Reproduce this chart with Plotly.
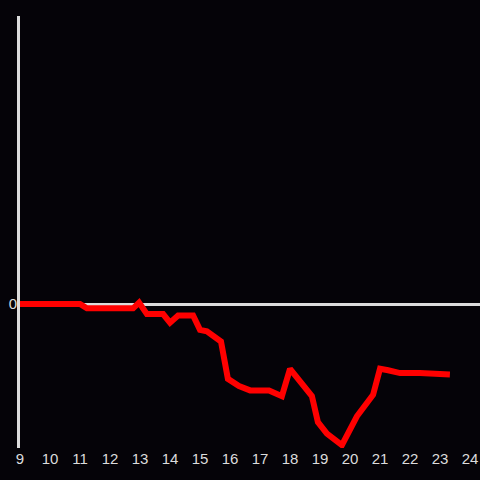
import plotly.graph_objects as go

hours = [9.0, 11.0, 11.23, 12.77, 12.97, 13.23, 13.77, 14.0, 14.27, 14.77, 15.0, 15.23,
         15.7, 15.93, 16.3, 16.67, 17.3, 17.73, 18.0, 18.73, 18.93, 19.23, 19.73,
         20.23, 20.77, 21.0, 21.27, 21.67, 22.33, 23.0, 23.33]
values = [0.0, 0.0, -0.3, -0.3, 0.1, -0.7, -0.7, -1.3, -0.8, -0.8, -1.8, -1.9,
          -2.6, -5.2, -5.7, -6.0, -6.0, -6.4, -4.5, -6.4, -8.2, -9.0, -9.8,
          -7.8, -6.3, -4.5, -4.6, -4.8, -4.8, -4.9, -4.9]
x_ticks = list(range(9, 25))
y_ticks = [0]

fig = go.Figure(go.Scatter(x=hours, y=values, mode="lines",
                           line=dict(color="#ff0000", width=6)))
fig.update_layout(
    width=480, height=480,
    margin=dict(l=20, r=0, t=16, b=32),
    paper_bgcolor="#050308", plot_bgcolor="#050308",
    showlegend=False,
    font=dict(family="Liberation Sans", size=15, color="#dcdcdc"),
)
fig.update_xaxes(range=[9, 24.333], tickvals=x_ticks, ticktext=[str(t) for t in x_ticks],
                 showgrid=False, zeroline=False, showline=False, ticks="", ticklen=0)
fig.update_yaxes(range=[-10, 20], tickvals=y_ticks, ticktext=["0"],
                 showgrid=False, zeroline=True, zerolinecolor="#dcdcdc", zerolinewidth=3,
                 showline=True, linecolor="#dcdcdc", linewidth=3, ticks="", ticklabelstandoff=-3)
fig.write_html("out.html", config={"displayModeBar": False},
               post_script="document.body.style.margin='0';document.body.style.background='#050308';")
